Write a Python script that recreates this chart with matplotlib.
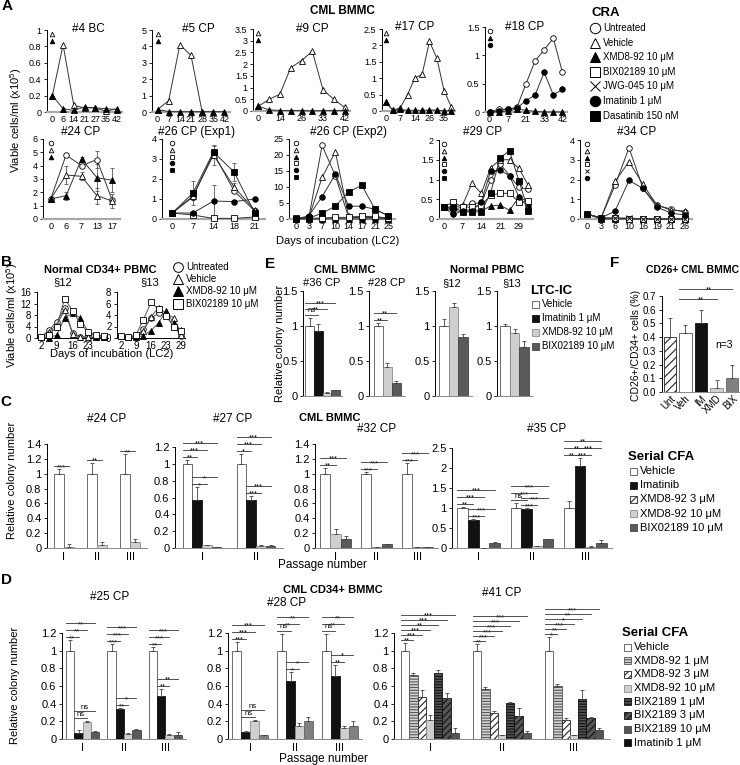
import numpy as np
import matplotlib.pyplot as plt

plt.rcParams['font.family'] = ['Liberation Sans', 'DejaVu Sans']
plt.rcParams['mathtext.default'] = 'regular'
plt.rcParams['axes.linewidth'] = 0.7
plt.rcParams['hatch.linewidth'] = 0.8

# ---------------- A: CRA, viable cells/ml (x10^5) vs day of LC2 ----------------
a4_days = ['0', '6', '14', '21', '27', '35', '42']
a4_veh = [0.2, 0.82, 0.08, 0.05, 0.05, 0.01, 0.04]
a4_xmd = [0.2, 0.04, 0.02, 0.06, 0.05, 0.04, 0.03]

a5_days = ['0', '7', '14', '21', '28', '35', '42']
a5_veh = [0.15, 0.7, 4.1, 3.45, 0.0]
a5_xmd = [0.15, 0.03, 0.02, 0.02, 0.02, 0.02, 0.02]

a9_days = ['0', '', '14', '', '26', '', '33', '', '42']
a9_veh = [0.2, 0.5, 0.72, 1.85, 2.15, 2.55, 0.9, 0.5, 0.15]
a9_xmd = [0.2, 0.05, 0.02, 0.02, 0.02, 0.0, 0.02, 0.02, 0.02]

a17_days = ['0', '', '7', '', '14', '', '26', '', '35', '']
a17_veh = [0.28, 0.02, 0.1, 0.5, 1.0, 1.12, 2.12, 1.62, 0.62, 0.12]
a17_xmd = [0.28, 0.02, 0.05, 0.02, 0.02, 0.02, 0.03, 0.03, 0.0, 0.0]

a18_days = ['0', '', '7', '', '21', '', '33', '', '42']
a18_unt = [0.0, 0.05, 0.05, 0.08, 0.5, 0.9, 1.1, 1.3, 0.7]
a18_xmd = [0.0, 0.0, 0.02, 0.05, 0.03, 0.01, 0.0, 0.0, 0.0]
a18_ima = [0.0, 0.02, 0.05, 0.07, 0.2, 0.3, 0.7, 0.3, 0.4]

a24_days = ['0', '6', '7', '13', '17']
a24_unt = [1.5, 4.8, 4.0, 4.45, 1.4]
a24_veh = [1.5, 3.3, 3.2, 1.75, 1.35]
a24_xmd = [1.5, 1.75, 4.5, 3.1, 2.9]
a24_unt_err = [0, 0, 0, 0.65, 0]
a24_veh_err = [0, 0.65, 0.3, 0.6, 0.5]
a24_xmd_err = [0, 0.3, 0.15, 1.0, 0.9]

a26a_days = ['0', '7', '14', '18', '21']
a26a_unt = [0.3, 1.1, 3.3, 1.4, 0.4]
a26a_veh = [0.3, 1.15, 3.2, 1.6, 0.45]
a26a_bix = [0.3, 0.2, 0.03, 0.03, 0.1]
a26a_ima = [0.3, 0.3, 0.9, 0.87, 1.0]
a26a_das = [0.3, 1.3, 3.35, 2.35, 0.3]
a26a_veh_err = [0, 0.2, 0.5, 0.2, 0.1]
a26a_ima_err = [0, 0.05, 0.8, 0, 0]
a26a_das_err = [0, 0.6, 0.3, 0.45, 0.1]

a26b_days = ['0', '3', '7', '10', '14', '17', '21', '25']
a26b_unt = [0.2, 0.5, 23.0, 13.5, 0.5, 0.5, 0.5, 0.3]
a26b_veh = [0.2, 0.5, 13.0, 21.0, 0.8, 0.5, 0.5, 0.3]
a26b_xmd = [0.0, 0.0, 0.0, 0.1, 0.0, 0.0, 0.0, 0.0]
a26b_bix = [0.2, 0.2, 0.3, 0.5, 0.5, 0.8, 0.8, 0.2]
a26b_ima = [0.0, 1.0, 7.0, 14.0, 4.0, 4.0, 3.0, 1.0]
a26b_das = [0.0, 0.3, 1.8, 4.0, 8.5, 10.5, 3.0, 1.0]

a29_days = ['0', '', '7', '', '14', '', '21', '', '29', '']
a29_unt = [0.3, 0.25, 0.3, 0.4, 0.4, 1.0, 1.4, 1.1, 0.8, 0.75]
a29_veh = [0.3, 0.3, 0.35, 0.9, 0.65, 1.3, 1.5, 1.5, 1.28, 0.85]
a29_xmd = [0.3, 0.2, 0.2, 0.25, 0.2, 0.33, 0.35, 0.22, 0.55, 0.43]
a29_bix = [0.3, 0.43, 0.3, 0.3, 0.35, 0.6, 0.65, 0.65, 0.43, 0.45]
a29_ima = [0.3, 0.12, 0.2, 0.2, 0.43, 1.22, 1.23, 1.1, 0.55, 0.3]
a29_das = [0.3, 0.3, 0.18, 0.18, 0.18, 0.67, 1.55, 1.73, 0.97, 0.2]

a34_days = ['0', '3', '6', '10', '16', '19', '21', '26']
a34_unt = [0.25, 0.05, 1.7, 3.6, 1.55, 0.7, 0.5, 0.35]
a34_veh = [0.25, 0.05, 1.9, 2.9, 1.75, 0.7, 0.45, 0.4]
a34_xmd = [0.25, 0.0, 0.0, 0.0, 0.0, 0.0, 0.0, 0.0]
a34_bix = [0.25, 0.05, 0.05, 0.0, 0.0, 0.0, 0.0, 0.0]
a34_jwg = [0.25, 0.05, 0.05, 0.05, 0.0, 0.0, 0.0, 0.0]
a34_ima = [0.25, 0.05, 0.4, 1.95, 1.55, 0.6, 0.3, 0.2]

cra_names = ['Untreated', 'Vehicle', 'XMD8-92 10 μM', 'BIX02189 10 μM',
             'JWG-045 10 μM', 'Imatinib 1 μM', 'Dasatinib 150 nM']

# ---------------- B: normal CD34+ PBMC ----------------
b12_days = ['2', '', '9', '', '16', '', '23', '', '']
b12_unt = [0.4, 2.7, 5.7, 10.3, 1.8, 0.4, 0.3, 0.3, 0.3]
b12_veh = [0.4, 2.2, 4.6, 9.6, 1.5, 0.3, 0.2, 0.2, 0.2]
b12_xmd = [0.2, 0.1, 1.0, 7.0, 8.6, 7.0, 2.0, 0.5, 0.3]
b12_bix = [0.3, 1.0, 4.0, 13.7, 9.5, 5.0, 2.0, 1.0, 0.8]

b13_days = ['2', '', '9', '', '16', '', '23', '', '29']
b13_unt = [0.3, 0.2, 0.3, 1.5, 3.5, 4.3, 4.0, 2.0, 0.4]
b13_veh = [0.3, 0.2, 0.3, 1.2, 3.7, 5.3, 4.3, 3.5, 0.6]
b13_xmd = [0.3, 0.1, 0.2, 0.4, 1.3, 2.6, 4.7, 2.6, 1.4]
b13_bix = [0.3, 0.2, 0.5, 3.2, 6.2, 5.0, 3.8, 2.0, 1.2]

b_names = ['Untreated', 'Vehicle', 'XMD8-92 10 μM', 'BIX02189 10 μM']

# ---------------- E: LTC-IC relative colony number ----------------
e36_val = [1.0, 0.93, 0.05, 0.08]
e36_err = [0.12, 0.1, 0.01, 0.01]
e36_sig = [[(0, 1, 'ns'), (0, 2, '**'), (0, 3, '***')]]
e28_val = [1.0, 0.42, 0.19]
e28_err = [0.05, 0.05, 0.02]
e28_sig = [[(0, 1, '**'), (0, 2, '**')]]
e12_val = [1.0, 1.27, 0.84]
e12_err = [0.1, 0.06, 0.04]
e13_val = [1.0, 0.9, 0.7]
e13_err = [0.03, 0.06, 0.08]
e_names = ['Vehicle', 'Imatinib 1 μM', 'XMD8-92 10 μM', 'BIX02189 10 μM']

# ---------------- F: CD26+/CD34+ cells ----------------
f_labels = ['Unt', 'Veh', 'IM', 'XMD', 'BIX']
f_val = [0.4, 0.43, 0.5, 0.03, 0.1]
f_err = [0.14, 0.06, 0.1, 0.06, 0.1]
f_sig = [(1, 3, '**'), (1, 4, '**')]

# ---------------- C: serial CFA, CML BMMC ----------------
passages = ['I', 'II', 'III']
c24_veh, c24_veh_err = [1, 1, 1], [0.06, 0.15, 0.26]
c24_x10, c24_x10_err = [0.01, 0.04, 0.08], [0.04, 0.04, 0.04]
c24_sig = [[(0, 1, '***')], [(0, 1, '**')], [(0, 1, '**')]]

c27_veh, c27_veh_err = [1, 1], [0.05, 0.12]
c27_ima, c27_ima_err = [0.57, 0.57], [0.15, 0.05]
c27_x10, c27_x10_err = [0.03, 0.02], [0.01, 0.02]
c27_bix, c27_bix_err = [0.01, 0.02], [0.005, 0.01]
c27_sig = [[(0, 1, '**'), (0, 2, '***'), (0, 3, '***'), (1, 2, '*'), (1, 3, '*')],
           [(0, 1, '*'), (0, 2, '***'), (0, 3, '***'), (1, 2, '***'), (1, 3, '***')]]

c32_veh, c32_veh_err = [1, 1, 1], [0.08, 0.02, 0.14]
c32_x10, c32_x10_err = [0.19, 0.01, 0.01], [0.06, 0.0, 0.0]
c32_bix, c32_bix_err = [0.12, 0.05, 0.01], [0.04, 0.01, 0.0]
c32_sig = [[(0, 1, '**'), (0, 2, '***')], [(0, 1, '***'), (0, 2, '***')],
           [(0, 1, '***'), (0, 2, '***')]]

c35_veh, c35_veh_err = [1, 1, 1], [0.03, 0.12, 0.17]
c35_ima, c35_ima_err = [0.69, 0.98, 2.06], [0.03, 0.02, 0.2]
c35_x10, c35_x10_err = [0.01, 0.04, 0.03], [0.0, 0.01, 0.01]
c35_bix, c35_bix_err = [0.13, 0.22, 0.13], [0.01, 0.0, 0.08]
c35_sig = [[(0, 1, '**'), (0, 2, '***'), (0, 3, '***'), (1, 2, '***'), (1, 3, '***')],
           [(0, 1, 'ns'), (0, 2, '***'), (0, 3, '***'), (1, 2, '***'), (1, 3, '***')],
           [(0, 1, '**'), (0, 2, '**'), (0, 3, '**'), (1, 2, '***'), (1, 3, '***')]]
c_names = ['Vehicle', 'Imatinib', 'XMD8-92 3 μM', 'XMD8-92 10 μM', 'BIX02189 10 μM']

# ---------------- D: serial CFA, CML CD34+ BMMC ----------------
d25_veh, d25_veh_err = [1, 1, 1], [0.12, 0.07, 0.04]
d25_ima, d25_ima_err = [0.07, 0.34, 0.49], [0.03, 0.01, 0.08]
d25_x10, d25_x10_err = [0.19, 0.06, 0.05], [0.01, 0.01, 0.01]
d25_bix, d25_bix_err = [0.08, 0.1, 0.05], [0.01, 0.01, 0.03]
d25_sig = [[(0, 1, '**'), (0, 2, '**'), (0, 3, '**'), (1, 2, 'ns'), (1, 3, 'ns')],
           [(0, 1, '***'), (0, 2, '***'), (0, 3, '***'), (1, 2, '**'), (1, 3, '*')],
           [(0, 1, '**'), (0, 2, '***'), (0, 3, '***'), (1, 2, '**'), (1, 3, '**')]]

d28_veh, d28_veh_err = [1, 1, 1], [0.1, 0.19, 0.19]
d28_ima, d28_ima_err = [0.08, 0.66, 0.71], [0.01, 0.1, 0.13]
d28_x10, d28_x10_err = [0.2, 0.15, 0.12], [0.01, 0.03, 0.03]
d28_bix, d28_bix_err = [0.04, 0.2, 0.15], [0.005, 0.05, 0.05]
d28_sig = [[(0, 1, '***'), (0, 2, '***'), (0, 3, '***'), (1, 2, 'ns'), (1, 3, 'ns')],
           [(0, 1, 'ns'), (0, 2, '**'), (0, 3, '**'), (1, 2, '*'), (1, 3, '*')],
           [(0, 1, 'ns'), (0, 2, '**'), (0, 3, '**'), (1, 2, '**'), (1, 3, '*')]]

d41_veh, d41_veh_err = [1, 1, 1], [0.09, 0.07, 0.15]
d41_x1, d41_x1_err = [0.73, 0.57, 0.6], [0.02, 0.02, 0.02]
d41_x3, d41_x3_err = [0.48, 0.29, 0.21], [0.08, 0.03, 0.03]
d41_x10, d41_x10_err = [0.22, 0.04, 0.04], [0.05, 0.01, 0.01]
d41_b1, d41_b1_err = [0.75, 0.41, 0.45], [0.03, 0.005, 0.1]
d41_b3, d41_b3_err = [0.46, 0.26, 0.24], [0.06, 0.09, 0.01]
d41_b10, d41_b10_err = [0.07, 0.07, 0.1], [0.06, 0.02, 0.02]
d41_sig = [[(0, 1, '**'), (0, 2, '***'), (0, 3, '***'), (0, 4, '**'), (0, 5, '***'), (0, 6, '***')],
           [(0, 1, '**'), (0, 2, '***'), (0, 3, '***'), (0, 4, '***'), (0, 5, '***'), (0, 6, '***')],
           [(0, 1, '*'), (0, 2, '**'), (0, 3, '***'), (0, 4, '*'), (0, 5, '**'), (0, 6, '***')]]
d_names = ['Vehicle', 'XMD8-92 1 μM', 'XMD8-92 3 μM', 'XMD8-92 10 μM',
           'BIX2189 1 μM', 'BIX2189 3 μM', 'BIX2189 10 μM', 'Imatinib 1 μM']

# ---------------- layout helpers (pixel coords, y from top) ----------------
W, H = 740, 765
fig = plt.figure(figsize=(W / 100, H / 100), dpi=100)
ov = fig.add_axes([0, 0, 1, 1])
ov.set_xlim(0, W)
ov.set_ylim(H, 0)
ov.axis('off')
ov.set_zorder(10)


def ax_px(x0, y0, x1, y1):
    return fig.add_axes([x0 / W, 1 - y1 / H, (x1 - x0) / W, (y1 - y0) / H])


def txt(x, y, s, **kw):
    kw.setdefault('ha', 'center')
    kw.setdefault('va', 'center')
    ov.text(x, y, s, **kw)


MK = {'unt': ('o', 'white'), 'veh': ('^', 'white'), 'xmd': ('^', 'black'),
      'bix': ('s', 'white'), 'jwg': ('x', 'black'), 'ima': ('o', 'black'),
      'das': ('s', 'black')}


def line_panel(rect, days, series, ymax, ystep, errs=None, stack=True,
               fs=6.5, lc='#333333', gray_axis=True):
    ax = ax_px(*rect)
    ax.patch.set_visible(False)
    n = len(days)
    x = np.arange(n)
    for key, vals in series:
        m, fc = MK[key]
        ax.plot(x[:len(vals)], vals, color=lc, lw=0.7, marker=m, ms=4,
                mfc=fc, mec='black', mew=0.6, clip_on=False, zorder=3)
        if errs and key in errs:
            ax.errorbar(x[:len(vals)], vals, yerr=errs[key], fmt='none',
                        ecolor='#555555', elinewidth=0.6, capsize=1.5,
                        capthick=0.6, zorder=2)
    if stack:
        hpx = rect[3] - rect[1]
        tr = ax.get_xaxis_transform()
        for i, (key, _) in enumerate(series):
            m, fc = MK[key]
            ax.plot([0], [1 - (4 + 6.8 * i) / hpx], transform=tr, marker=m,
                    ms=3.3, mfc=fc, mec='black', mew=0.6, ls='none',
                    clip_on=False)
    ax.set_xlim(-0.5, n - 0.5)
    ax.set_ylim(0, ymax)
    ax.set_yticks(np.arange(0, ymax + 1e-9, ystep))
    ax.set_yticklabels(['%g' % v for v in np.arange(0, ymax + 1e-9, ystep)])
    ax.set_xticks(x)
    ax.set_xticklabels(days)
    ax.tick_params(axis='x', length=0, labelsize=fs, pad=2)
    ax.tick_params(axis='y', length=2.5, width=0.6, labelsize=fs, pad=1.5)
    for s in ['top', 'right']:
        ax.spines[s].set_visible(False)
    if gray_axis:
        ax.spines['bottom'].set_color('#a8a8a8')
        ax.spines['bottom'].set_linewidth(1.6)
    return ax


def bar_panel(rect, ymax, ystep, groups, series, width, sigs=None, fs=8,
              step_px=7, gap_px=3, fmt='%g'):
    ax = ax_px(*rect)
    ax.patch.set_visible(False)
    ng = len(groups)
    ns = len(series)
    xs_all, tops = [], []
    for i, (vals, errs, sty) in enumerate(series):
        xs = np.arange(ng) + (i - (ns - 1) / 2) * width
        ax.bar(xs, vals, width, linewidth=0.6, zorder=2, **sty)
        ax.errorbar(xs, vals, yerr=[np.zeros(ng), errs], fmt='none',
                    ecolor='#444444', elinewidth=0.6, capsize=1.5,
                    capthick=0.6, zorder=3)
        xs_all.append(xs)
        tops.append(np.array(vals, float) + np.array(errs, float))
    ax.set_xlim(-0.5, ng - 0.5)
    ax.set_ylim(0, ymax)
    ticks = np.arange(0, ymax + 1e-9, ystep)
    ax.set_yticks(ticks)
    ax.set_yticklabels([fmt % v for v in ticks])
    ax.set_xticks(np.arange(ng))
    ax.set_xticklabels(groups)
    ax.tick_params(axis='x', length=0, labelsize=fs, pad=3)
    ax.tick_params(axis='y', length=2.5, width=0.6, labelsize=fs, pad=1.5)
    for s in ['top', 'right']:
        ax.spines[s].set_visible(False)
    ax.spines['bottom'].set_color('#888888')
    if sigs:
        u = ymax / (rect[3] - rect[1])
        for g, gs in enumerate(sigs):
            last = {}
            for a, b, lab in gs:
                top = max(tops[k][g] for k in range(a, b + 1))
                y = top + gap_px * u
                if a in last:
                    y = max(y, last[a] + step_px * u)
                last[a] = y
                x0 = xs_all[a][g] - width / 2
                x1 = xs_all[b][g]
                ax.plot([x0, x1], [y, y], color='#333333', lw=0.6,
                        clip_on=False, zorder=4)
                off = 0.5 if lab == 'ns' else -2.2
                ax.annotate(lab, ((x0 + x1) / 2, y), xytext=(0, off),
                            textcoords='offset points', ha='center',
                            va='bottom' if lab == 'ns' else 'baseline',
                            fontsize=5.5, annotation_clip=False)
    return ax


def legend_rows(x, y0, dy, names, styles, fs=7, kind='box', size=7):
    for i, (nm, st) in enumerate(zip(names, styles)):
        y = y0 + i * dy
        if kind == 'box':
            ov.add_patch(plt.Rectangle((x, y - size / 2), size, size,
                                       linewidth=0.6, **st))
            txt(x + size + 3, y, nm, ha='left', fontsize=fs)
        else:
            m, fc = st
            ov.plot([x], [y], marker=m, ms=size, mfc=fc, mec='black',
                    mew=0.7, ls='none')
            txt(x + 8, y, nm, ha='left', fontsize=fs)


# ---------------- bar styles ----------------
VEH = dict(facecolor='white', edgecolor='#555555')
IMA = dict(facecolor='#111111', edgecolor='#111111')
X10 = dict(facecolor='#cfcfcf', edgecolor='#8a8a8a')
BIX = dict(facecolor='#5a5a5a', edgecolor='#444444')
BIXm = dict(facecolor='#808080', edgecolor='#666666')
X3 = dict(facecolor='white', edgecolor='#222222', hatch='/////')
X1 = dict(facecolor='#d6d6d6', edgecolor='#555555', hatch='------')
B1 = dict(facecolor='#555555', edgecolor='#111111', hatch='------')
B3 = dict(facecolor='#555555', edgecolor='#111111', hatch='/////')
B10 = dict(facecolor='#555555', edgecolor='#444444')
UNT = dict(facecolor='white', edgecolor='#222222', hatch='////')

# ================= Panel A =================
line_panel((47, 30, 122, 112), a4_days, [('veh', a4_veh), ('xmd', a4_xmd)], 1, 0.2)
line_panel((152, 30, 230, 112), a5_days, [('veh', a5_veh), ('xmd', a5_xmd)], 5, 1)
line_panel((253, 29, 350, 111), a9_days, [('veh', a9_veh), ('xmd', a9_xmd)], 3.5, 0.5)
line_panel((382, 29, 455, 111), a17_days, [('veh', a17_veh), ('xmd', a17_xmd)], 2.5, 0.5)
line_panel((485, 27, 567, 112), a18_days,
           [('unt', a18_unt), ('xmd', a18_xmd), ('ima', a18_ima)], 1.5, 0.5)

line_panel((43, 139, 120, 219), a24_days,
           [('unt', a24_unt), ('veh', a24_veh), ('xmd', a24_xmd)], 6, 1,
           errs={'unt': a24_unt_err, 'veh': a24_veh_err, 'xmd': a24_xmd_err})
line_panel((162, 139, 265, 219), a26a_days,
           [('unt', a26a_unt), ('veh', a26a_veh), ('bix', a26a_bix),
            ('ima', a26a_ima), ('das', a26a_das)], 4, 1,
           errs={'veh': a26a_veh_err, 'ima': a26a_ima_err, 'das': a26a_das_err})
line_panel((289, 139, 395, 219), a26b_days,
           [('unt', a26b_unt), ('veh', a26b_veh), ('xmd', a26b_xmd),
            ('bix', a26b_bix), ('ima', a26b_ima), ('das', a26b_das)], 25, 5)
line_panel((439, 140, 533, 219), a29_days,
           [('unt', a29_unt), ('veh', a29_veh), ('xmd', a29_xmd),
            ('bix', a29_bix), ('ima', a29_ima), ('das', a29_das)], 2, 0.5)
line_panel((580, 140, 692, 219), a34_days,
           [('unt', a34_unt), ('veh', a34_veh), ('xmd', a34_xmd),
            ('bix', a34_bix), ('jwg', a34_jwg), ('ima', a34_ima)], 4, 1)

for t, (x, y) in zip(['#4 BC', '#5 CP', '#9 CP', '#17 CP', '#18 CP'],
                     [(88, 29), (198, 29), (312, 29), (415, 27), (525, 27)]):
    txt(x, y, t, fontsize=8.5)
for t, (x, y) in zip(['#24 CP', '#26 CP (Exp1)', '#26 CP (Exp2)', '#29 CP', '#34 CP'],
                     [(81, 132), (197, 132), (348, 132), (483, 132), (637, 132)]):
    txt(x, y, t, fontsize=8.5)
txt(342, 11, 'CML BMMC', fontsize=8.5, weight='bold')
txt(16, 120, 'Viable cells/ml (x10$^5$)', fontsize=8, rotation=90)
txt(338, 241, 'Days of incubation (LC2)', fontsize=8)
txt(592, 13, 'CRA', fontsize=9.5, weight='bold', ha='left')
legend_rows(595, 28, 14.6, cra_names,
            [MK[k] for k in ['unt', 'veh', 'xmd', 'bix', 'jwg', 'ima', 'das']],
            fs=7, kind='marker', size=7.5)

# ================= Panel B =================
b_keys = ['unt', 'veh', 'xmd', 'bix']
line_panel((37, 292, 108, 338), b12_days,
           list(zip(b_keys, [b12_unt, b12_veh, b12_xmd, b12_bix])), 16, 4,
           stack=False, fs=7, lc='#555555', gray_axis=False)
line_panel((117, 292, 185, 338), b13_days,
           list(zip(b_keys, [b13_unt, b13_veh, b13_xmd, b13_bix])), 8, 2,
           stack=False, fs=7, lc='#555555', gray_axis=False)
txt(100, 270, 'Normal CD34+ PBMC', fontsize=8, weight='bold')
txt(63, 282, '§12', fontsize=8)
txt(150, 282, '§13', fontsize=8)
txt(12, 315, 'Viable cells/ml (x10$^5$)', fontsize=8, rotation=90)
txt(112, 354, 'Days of incubation (LC2)', fontsize=8)
legend_rows(178, 267, 12.2, b_names, [MK[k] for k in b_keys], fs=7,
            kind='marker', size=7)

# ================= Panel E =================
bar_panel((303, 291, 342, 396), 1.5, 0.5, [''],
          [([e36_val[i]], [e36_err[i]], s) for i, s in enumerate([VEH, IMA, X10, BIX])],
          0.22, e36_sig, step_px=6)
bar_panel((369, 291, 405, 396), 1.5, 0.5, [''],
          [([e28_val[i]], [e28_err[i]], s) for i, s in enumerate([VEH, X10, BIX])],
          0.25, e28_sig, step_px=7)
bar_panel((435, 291, 472, 396), 1.5, 0.5, [''],
          [([e12_val[i]], [e12_err[i]], s) for i, s in enumerate([VEH, X10, BIX])],
          0.27)
bar_panel((497, 291, 532, 396), 1.5, 0.5, [''],
          [([e13_val[i]], [e13_err[i]], s) for i, s in enumerate([VEH, X10, BIX])],
          0.27)
txt(345, 270, 'CML BMMC', fontsize=8, weight='bold')
txt(322, 283, '#36 CP', fontsize=8)
txt(387, 283, '#28 CP', fontsize=8)
txt(487, 270, 'Normal PBMC', fontsize=8, weight='bold')
txt(452, 283, '§12', fontsize=8)
txt(512, 283, '§13', fontsize=8)
txt(280, 343, 'Relative colony number', fontsize=8, rotation=90)
txt(530, 291, 'LTC-IC', fontsize=9.5, weight='bold', ha='left')
legend_rows(532, 304, 14, e_names, [VEH, IMA, X10, BIX], fs=7)

# ================= Panel F =================
axf = bar_panel((662, 296, 740, 392), 0.7, 0.1, f_labels,
                [(f_val, f_err, {})], 0.8, None, fs=7, fmt='%.1f')
for p, st in zip(axf.patches, [UNT, VEH, IMA, X10, BIXm]):
    p.set_facecolor(st['facecolor'])
    p.set_edgecolor(st['edgecolor'])
    p.set_hatch(st.get('hatch'))
axf.set_xticklabels(f_labels, rotation=45, ha='right', rotation_mode='anchor')
axf.tick_params(axis='x', pad=1)
uf = 0.7 / 96
for k, (a, b, lab) in enumerate(f_sig):
    y = 0.49 + 0.19 + k * 10 * uf
    axf.plot([a - 0.4, b], [y, y], color='#333333', lw=0.6, clip_on=False)
    axf.annotate(lab, ((a + b) / 2, y), xytext=(0, -2.2), textcoords='offset points',
                 ha='center', va='baseline', fontsize=5.5, annotation_clip=False)
txt(724, 345, 'n=3', fontsize=7.5)
txt(739, 270, 'CD26+ CML BMMC', fontsize=7.5, weight='bold', ha='right')
txt(636, 345, 'CD26+/CD34+ cells (%)', fontsize=7.5, rotation=90)

# ================= Panel C =================
bar_panel((47, 444, 147, 548), 1.4, 0.2, passages,
          [(c24_veh, c24_veh_err, VEH), (c24_x10, c24_x10_err, X10)], 0.3, c24_sig)
bar_panel((175, 447, 283, 548), 1.2, 0.2, passages[:2],
          [(c27_veh, c27_veh_err, VEH), (c27_ima, c27_ima_err, IMA),
           (c27_x10, c27_x10_err, X10), (c27_bix, c27_bix_err, BIX)], 0.18, c27_sig)
bar_panel((315, 444, 438, 548), 1.4, 0.2, passages,
          [(c32_veh, c32_veh_err, VEH), (c32_x10, c32_x10_err, X10),
           (c32_bix, c32_bix_err, BIX)], 0.25, c32_sig)
bar_panel((452, 448, 612, 548), 2.5, 0.5, passages,
          [(c35_veh, c35_veh_err, VEH), (c35_ima, c35_ima_err, IMA),
           (c35_x10, c35_x10_err, X10), (c35_bix, c35_bix_err, BIX)], 0.2, c35_sig)
txt(330, 418, 'CML BMMC', fontsize=8, weight='bold')
for t, (x, y) in zip(['#24 CP', '#27 CP', '#32 CP', '#35 CP'],
                     [(107, 419), (233, 419), (377, 429), (547, 429)]):
    txt(x, y, t, fontsize=8.5)
txt(12, 480, 'Relative colony number', fontsize=8, rotation=90)
txt(322, 565, 'Passage number', fontsize=8.5)
txt(628, 457, 'Serial CFA', fontsize=9.5, weight='bold', ha='left')
legend_rows(630, 471, 14.2, c_names, [VEH, IMA, X3, X10, BIX], fs=8)

# ================= Panel D =================
bar_panel((62, 633, 186, 739), 1.2, 0.2, passages,
          [(d25_veh, d25_veh_err, VEH), (d25_ima, d25_ima_err, IMA),
           (d25_x10, d25_x10_err, X10), (d25_bix, d25_bix_err, BIX)], 0.2, d25_sig)
bar_panel((228, 633, 362, 739), 1.2, 0.2, passages,
          [(d28_veh, d28_veh_err, VEH), (d28_ima, d28_ima_err, IMA),
           (d28_x10, d28_x10_err, X10), (d28_bix, d28_bix_err, BIXm)], 0.2, d28_sig)
bar_panel((394, 633, 610, 739), 1.2, 0.2, passages,
          [(d41_veh, d41_veh_err, VEH), (d41_x1, d41_x1_err, X1),
           (d41_x3, d41_x3_err, X3), (d41_x10, d41_x10_err, X10),
           (d41_b1, d41_b1_err, B1), (d41_b3, d41_b3_err, B3),
           (d41_b10, d41_b10_err, B10)], 0.115, d41_sig, step_px=5)
txt(333, 590, 'CML CD34+ BMMC', fontsize=8, weight='bold')
for t, (x, y) in zip(['#25 CP', '#28 CP', '#41 CP'], [(110, 597), (287, 603), (502, 593)]):
    txt(x, y, t, fontsize=8.5)
txt(15, 685, 'Relative colony number', fontsize=8, rotation=90)
txt(323, 759, 'Passage number', fontsize=8.5)
txt(622, 633, 'Serial CFA', fontsize=9.5, weight='bold', ha='left')
legend_rows(624, 647, 13.7, d_names, [VEH, X1, X3, X10, B1, B3, B10, IMA], fs=8)

# panel letters
for t, (x, y) in zip('ABCDEF', [(7, 6), (6, 262), (6, 402), (6, 580), (270, 264), (615, 263)]):
    txt(x, y, t, fontsize=11, weight='bold')

fig.savefig('out.png', dpi=100)
